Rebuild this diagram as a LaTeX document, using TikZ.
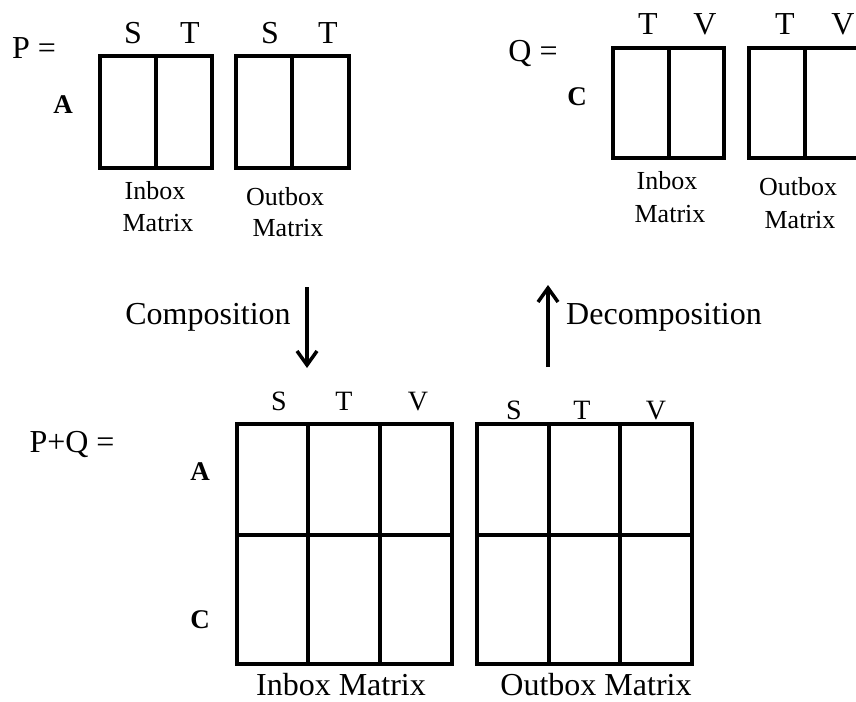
\documentclass[tikz,border=0pt]{standalone}
\usepackage{fontspec}
\setmainfont{Liberation Serif}
\usetikzlibrary{arrows.meta}
\begin{document}
\begin{tikzpicture}[x=1pt,y=-1pt,
  grid/.style={line width=3.5pt,line cap=rect},
  big/.style={inner sep=0pt,anchor=base,font=\fontsize{32}{36}\selectfont},
  mid/.style={inner sep=0pt,anchor=base,font=\fontsize{28}{32}\selectfont},
  small/.style={inner sep=0pt,anchor=base,font=\fontsize{26}{30}\selectfont},
  rowlab/.style={inner sep=0pt,anchor=base,font=\fontsize{27}{30}\selectfont\bfseries},
  flow/.style={line width=3.5pt,-{Straight Barb[length=14pt,width=20pt,line width=3.5pt]}}]
\useasboundingbox (0,0) rectangle (856,701);
% ---------- P ----------
\node[big] (peq) at (34,59) {P =};
\node[big] (pS1) at (133,44) {S};
\node[big] (pT1) at (190,44) {T};
\node[big] (pS2) at (270,44) {S};
\node[big] (pT2) at (328,44) {T};
\node[rowlab] (pA) at (63,113) {A};
\draw[grid] (100,56) rectangle (212,168) (156,56) -- (156,168);
\draw[grid] (236,56) rectangle (349,168) (292,56) -- (292,168);
\node[small] (pin1) at (155,199) {Inbox};
\node[small] (pin2) at (158,231) {Matrix};
\node[small] (pout1) at (285,205) {Outbox};
\node[small] (pout2) at (288,236) {Matrix};
% ---------- Q ----------
\node[big] (qeq) at (533,62) {Q =};
\node[big] (qT1) at (648,35) {T};
\node[big] (qV1) at (705,35) {V};
\node[big] (qT2) at (785,35) {T};
\node[big] (qV2) at (843,35) {V};
\node[rowlab] (qC) at (577,105) {C};
\draw[grid] (613,48) rectangle (724,158) (669,48) -- (669,158);
\draw[grid] (749,48) rectangle (866,158) (805,48) -- (805,158);
\node[small] (qin1) at (667,189) {Inbox};
\node[small] (qin2) at (670,222) {Matrix};
\node[small] (qout1) at (798,195) {Outbox};
\node[small] (qout2) at (800,228) {Matrix};
% ---------- arrows ----------
\coordinate (c1) at (307,287);
\coordinate (c2) at (307,368);
\coordinate (d1) at (548,367);
\coordinate (d2) at (548,285);
\draw[flow] (c1) -- (c2);
\draw[flow] (d1) -- (d2);
\node[big] (comp) at (208,324) {Composition};
\node[big] (decomp) at (664,324) {Decomposition};
% ---------- P+Q ----------
\node[big] (pqeq) at (72,452) {P+Q =};
\node[mid] (bS1) at (279,410) {S};
\node[mid] (bT1) at (344,410) {T};
\node[mid] (bV1) at (418,410) {V};
\node[mid] (bS2) at (514,419) {S};
\node[mid] (bT2) at (582,419) {T};
\node[mid] (bV2) at (656,419) {V};
\node[rowlab] (bA) at (200,480) {A};
\node[rowlab] (bC) at (200,628) {C};
\draw[grid] (237,424) rectangle (452,664) (237,535) -- (452,535)
  (308,424) -- (308,664) (380,424) -- (380,664);
\draw[grid] (477,424) rectangle (692,664) (477,535) -- (692,535)
  (549,424) -- (549,664) (620,424) -- (620,664);
\node[big] (bin) at (341,695) {Inbox Matrix};
\node[big] (bout) at (596,695) {Outbox Matrix};
\end{tikzpicture}
\end{document}
